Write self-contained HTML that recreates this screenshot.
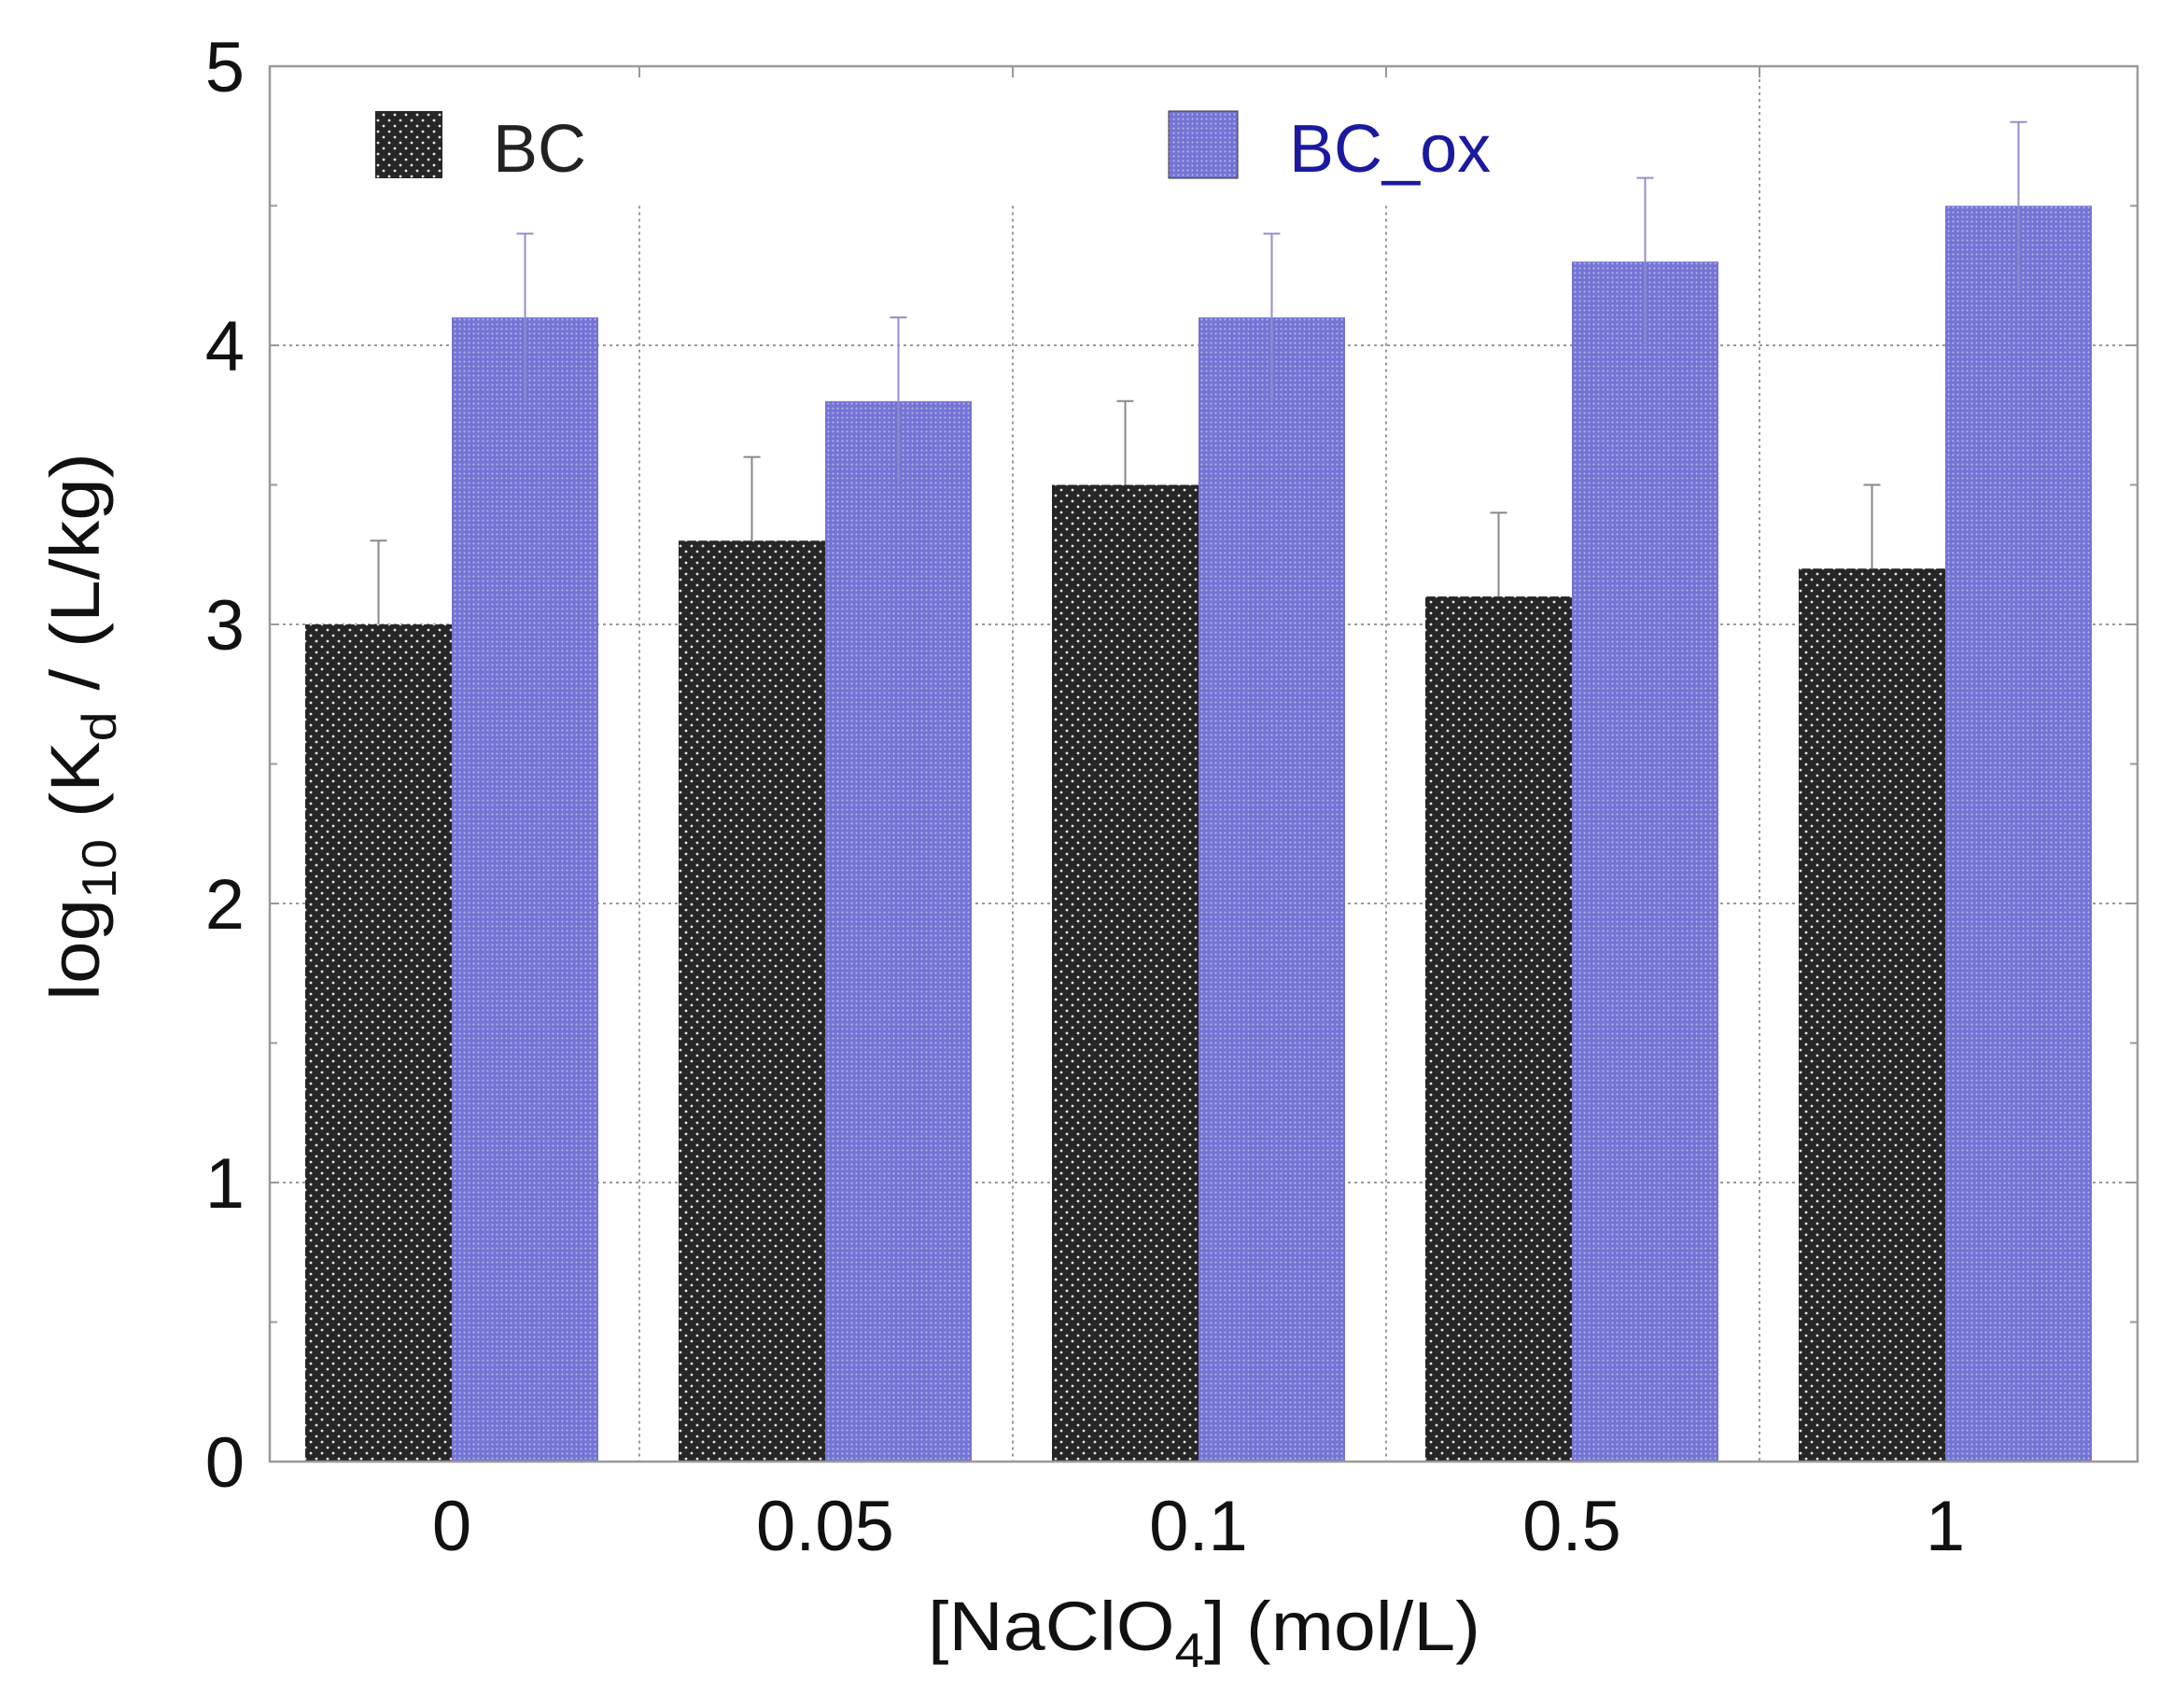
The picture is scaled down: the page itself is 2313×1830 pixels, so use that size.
<!DOCTYPE html>
<html><head><meta charset="utf-8"><style>
html,body{margin:0;padding:0;background:#fff;}
svg{display:block;font-family:"Liberation Sans",Arial,sans-serif;}
</style></head><body>
<svg id="chart" width="2313" height="1830" viewBox="0 0 2313 1830" xmlns="http://www.w3.org/2000/svg">
<defs>
<pattern id="pBC" width="12" height="12" patternUnits="userSpaceOnUse">
<rect width="12" height="12" fill="#262626"/>
<circle cx="3" cy="3" r="1.4" fill="#e8e8e8"/>
<circle cx="9" cy="9" r="1.4" fill="#e8e8e8"/>
</pattern>
<pattern id="pOX" width="5" height="5" patternUnits="userSpaceOnUse">
<rect width="5" height="5" fill="#7474d4"/>
<circle cx="2.5" cy="2.5" r="1" fill="#bcbcf0"/>
</pattern>
</defs>
<g id="grid"></g>
<g id="bars"></g>
<g id="axes"></g>
<g>
<rect x="402" y="119" width="72" height="72" fill="url(#pBC)"/>
<text x="528" y="184" font-size="72" fill="#222">BC</text>
<rect x="1252" y="119" width="74" height="72" fill="url(#pOX)" stroke="#333" stroke-width="1"/>
<text x="1381" y="184" font-size="72" fill="#1a1aa0">BC_ox</text>
</g>
<text x="994" y="1768" font-size="74" textLength="592" lengthAdjust="spacingAndGlyphs" fill="#111">[NaClO<tspan font-size="52" dy="18">4</tspan><tspan dy="-18">] (mol/L)</tspan></text>
<text transform="translate(106,1072) rotate(-90)" font-size="74" textLength="587" lengthAdjust="spacingAndGlyphs" fill="#111">log<tspan font-size="52" dy="18">10</tspan><tspan dy="-18"> (K</tspan><tspan font-size="52" dy="18">d</tspan><tspan dy="-18"> / (L/kg)</tspan></text>
</svg>
<script>
const categories = ["0", "0.05", "0.1", "0.5", "1"];
const bcValues = [3.0, 3.3, 3.5, 3.1, 3.2];
const bcErrors = [0.3, 0.3, 0.3, 0.3, 0.3];
const oxValues = [4.1, 3.8, 4.1, 4.3, 4.5];
const oxErrors = [0.3, 0.3, 0.3, 0.3, 0.3];
const yTicks = [0, 1, 2, 3, 4, 5];

const NS = "http://www.w3.org/2000/svg";
const L = 289, R = 2290, T = 71, B = 1566, YMAX = 5;
const groupStep = 400, firstBar = 327, barW = 157, gridOff = 358;
function y(v){ return B - (v / YMAX) * (B - T); }
function bx(i){ return firstBar + i * groupStep; }
function mk(tag, attrs, parent){
  const e = document.createElementNS(NS, tag);
  for (const k in attrs) e.setAttribute(k, attrs[k]);
  parent.appendChild(e); return e;
}
const grid = document.getElementById('grid');
const bars = document.getElementById('bars');
const axes = document.getElementById('axes');

yTicks.forEach(t => {
  if (t > 0 && t < YMAX) {
    const ln = mk('line', {x1:L, x2:R, y1:y(t), y2:y(t), stroke:'#999', 'stroke-width':2, 'stroke-dasharray':'3,4'}, grid);
    
    
  }
});
for (let i = 0; i < categories.length - 1; i++) {
  const gxv = bx(i) + gridOff;
  const ln = mk('line', {x1:gxv, x2:gxv, y1:i===3?T:y(4.5), y2:B, stroke:'#999', 'stroke-width':2, 'stroke-dasharray':'3,4'}, grid);
  
  
  mk('line', {x1:gxv, x2:gxv, y1:T, y2:T + 12, stroke:'#999', 'stroke-width':2}, axes);
}

categories.forEach((c, i) => {
  const x0 = bx(i);
  const b1 = mk('rect', {x:x0, y:y(bcValues[i]), width:barW, height:B - y(bcValues[i]), fill:'url(#pBC)'}, bars);
  
  
  const b2 = mk('rect', {x:x0 + barW, y:y(oxValues[i]), width:barW, height:B - y(oxValues[i]), fill:'url(#pOX)'}, bars);
  
  
  const e1 = mk('g', {stroke:'#888', 'stroke-width':2}, bars);
  
  
  const c1 = x0 + barW / 2;
  mk('line', {x1:c1, x2:c1, y1:y(bcValues[i] + bcErrors[i]), y2:y(bcValues[i])}, e1);
  mk('line', {x1:c1 - 9, x2:c1 + 9, y1:y(bcValues[i] + bcErrors[i]), y2:y(bcValues[i] + bcErrors[i])}, e1);
  const e2 = mk('g', {stroke:'#9090c8', 'stroke-width':2}, bars);
  
  
  const c2 = x0 + barW * 1.5;
  mk('line', {x1:c2, x2:c2, y1:y(oxValues[i] + oxErrors[i]), y2:y(oxValues[i] - oxErrors[i])}, e2);
  mk('line', {x1:c2 - 9, x2:c2 + 9, y1:y(oxValues[i] + oxErrors[i]), y2:y(oxValues[i] + oxErrors[i])}, e2);
  const tl = mk('text', {x:x0 + barW, y:1661, 'font-size':76, 'text-anchor':'middle', fill:'#111'}, axes);
  tl.textContent = c;
  
  
});

const fr = mk('rect', {x:L, y:T, width:R - L, height:B - T, fill:'none', stroke:'#999', 'stroke-width':2.5}, axes);



yTicks.forEach(t => {
  const lb = mk('text', {x:262, y:y(t) + 27, 'font-size':76, 'text-anchor':'end', fill:'#111'}, axes);
  lb.textContent = t;
  
  
  mk('line', {x1:L, x2:L + 10, y1:y(t), y2:y(t), stroke:'#999', 'stroke-width':2}, axes);
  mk('line', {x1:R - 10, x2:R, y1:y(t), y2:y(t), stroke:'#999', 'stroke-width':2}, axes);
  if (t < YMAX) {
    mk('line', {x1:L, x2:L + 8, y1:y(t + 0.5), y2:y(t + 0.5), stroke:'#999', 'stroke-width':2}, axes);
    mk('line', {x1:R - 8, x2:R, y1:y(t + 0.5), y2:y(t + 0.5), stroke:'#999', 'stroke-width':2}, axes);
  }
});
</script>
</body></html>
